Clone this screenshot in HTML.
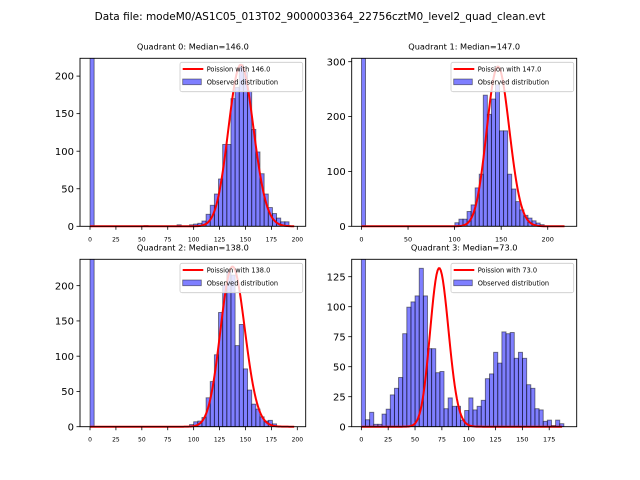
<!DOCTYPE html>
<html><head><meta charset="utf-8">
<style>
html,body{margin:0;padding:0;background:#fff;}
svg{display:block;font-family:"DejaVu Sans","Liberation Sans",sans-serif;}
</style></head>
<body>
<svg id="fig" width="640" height="480" viewBox="0 0 640 480">
<text x="320" y="20" text-anchor="middle" font-size="10.5">Data file: modeM0/AS1C05_013T02_9000003364_22756cztM0_level2_quad_clean.evt</text>
</svg>
<script>
// ---- data ----
const titles = ["Quadrant 0: Median=146.0","Quadrant 1: Median=147.0","Quadrant 2: Median=138.0","Quadrant 3: Median=73.0"];
const medians = [146.0, 147.0, 138.0, 73.0];
const binWidths = [4.0, 4.36, 4.0, 3.85];
const counts0 = [300,0,0,0,0,0,0,0,0,0,0,0,0,1,0,0,0,0,0,0,0,2,0,0,2,3,4,7,16,28,43,63,109,109,170,185,215,205,180,129,99,70,43,25,17,11,6,6];
const counts1 = [400,0,0,0,0,0,0,0,0,0,0,0,0,0,0,0,0,0,0,0,0,0,0,6.5,13,13,27,39,70,95,239,204,232,258,174,174,95,68,45,30,20,15,10,6,3];
const counts2 = [300,0,0,0,0,0,0,0,0,0,0,0,0,0,0,0,0,0,0,0,0,0,0,0,3,7,8,13,41,64,102,162,201,222,215,115,145,82,52,32,25,14,8,9,4];
const counts3 = [200,5.8,12,2,2,10.5,14.6,26.5,32,41,77.5,99.6,104,109,132,109,65,65,45,46,15,24,17,17,5.5,13.5,24,14,17,22,40,44,62,53,79,77.5,78.5,57,62,57,35,32,15,14,4.5,5.5,1,5.5,2.5];
const curvePeaks = [215, 291, 227, 132];
const curveMaxK = [197, 218, 197, 187];
const xTicks0 = [0,25,50,75,100,125,150,175,200];
const xTicks1 = [0,50,100,150,200];
const xTicks3 = [0,25,50,75,100,125,150,175];
const yTicks0 = [0,50,100,150,200];
const yTicks1 = [0,100,200,300];
const yTicks3 = [0,25,50,75,100,125];

// ---- layout ----
const NS = "http://www.w3.org/2000/svg";
const svg = document.getElementById('fig');
const panels = [
  {L:80,R:305.7,T:58.3,B:226.3,xmin:-9.65,xmax:208.1,ymax:223.7,counts:counts0,xt:xTicks0,yt:yTicks0,xfs:6},
  {L:351.7,R:576.7,T:58.3,B:226.3,xmin:-10.5,xmax:231.1,ymax:306.2,counts:counts1,xt:xTicks1,yt:yTicks1,xfs:6.5},
  {L:80,R:305.7,T:259.3,B:426.7,xmin:-9.65,xmax:208.1,ymax:237.4,counts:counts2,xt:xTicks0,yt:yTicks0,xfs:6},
  {L:351.7,R:576.7,T:259.3,B:426.7,xmin:-9.0,xmax:200.6,ymax:139.5,counts:counts3,xt:xTicks3,yt:yTicks3,xfs:6.5}
];
function mk(tag, attrs, parent){const e=document.createElementNS(NS,tag);for(const k in attrs)e.setAttribute(k,attrs[k]);(parent||svg).appendChild(e);return e;}
function logFact(k){let s=0;for(let i=2;i<=k;i++)s+=Math.log(i);return s;}

panels.forEach((p,i)=>{
  const sx=v=>p.L+(v-p.xmin)/(p.xmax-p.xmin)*(p.R-p.L);
  const sy=v=>p.B-v/p.ymax*(p.B-p.T);
  const g=mk('g',{});
  
  
  const cp=mk('clipPath',{id:'clip'+i},g);
  mk('rect',{x:p.L,y:p.T,width:p.R-p.L,height:p.B-p.T},cp);
  const t=mk('text',{x:(p.L+p.R)/2,y:p.T-9,'text-anchor':'middle','font-size':8.2},g);
  t.textContent=titles[i];
  
  
  const bars=mk('g',{'clip-path':'url(#clip'+i+')'},g);
  const w=binWidths[i];
  p.counts.forEach((c,k)=>{
    if(c<=0)return;
    const x0=sx(k*w),x1=sx((k+1)*w),y0=sy(c);
    const r=mk('rect',{x:x0,y:y0,width:x1-x0,height:p.B-y0,fill:'rgba(0,0,255,0.5)',stroke:'rgba(0,0,0,0.5)','stroke-width':0.9},bars);
    
    
  });
  // poisson curve
  const lam=medians[i];
  let pm=[];let mx=0;
  for(let k=0;k<=curveMaxK[i];k++){const v=Math.exp(k*Math.log(lam)-lam-logFact(k));pm.push(v);if(v>mx)mx=v;}
  const pts=pm.map((v,k)=>sx(k).toFixed(2)+','+sy(v/mx*curvePeaks[i]).toFixed(2)).join(' ');
  const pl=mk('polyline',{points:pts,fill:'none',stroke:'#ff0000','stroke-width':2,'stroke-linejoin':'round'},g);
  
  
  // frame
  const fr=mk('rect',{x:p.L,y:p.T,width:p.R-p.L,height:p.B-p.T,fill:'none',stroke:'#000','stroke-width':0.9},g);
  
  
  // ticks
  p.xt.forEach(v=>{const x=sx(v);mk('line',{x1:x,x2:x,y1:p.B,y2:p.B+3.5,stroke:'#000','stroke-width':0.8},g);
    const tt=mk('text',{x:x,y:p.B+15,'text-anchor':'middle','font-size':p.xfs},g);tt.textContent=v;
    
    });
  p.yt.forEach(v=>{const y=sy(v);mk('line',{x1:p.L-3.5,x2:p.L,y1:y,y2:y,stroke:'#000','stroke-width':0.8},g);
    const tt=mk('text',{x:p.L-6,y:y+3.6,'text-anchor':'end','font-size':10},g);tt.textContent=v;
    
    });
  // legend
  const lx=p.R-125.7,ly=p.T+4;
  const lg=mk('g',{},g);
  
  
  mk('rect',{x:lx,y:ly,width:122.7,height:29.4,rx:2,fill:'rgba(255,255,255,0.8)',stroke:'#ccc','stroke-width':0.8},lg);
  mk('line',{x1:lx+2.7,x2:lx+23.3,y1:ly+6.7,y2:ly+6.7,stroke:'#ff0000','stroke-width':2},lg);
  const l1=mk('text',{x:lx+26.7,y:ly+9.2,'font-size':6.6},lg);l1.textContent='Poission with '+medians[i].toFixed(1);
  
  
  mk('rect',{x:lx+2.7,y:ly+16.7,width:18.6,height:5.7,fill:'rgba(0,0,255,0.5)',stroke:'rgba(0,0,0,0.5)','stroke-width':0.8},lg);
  const l2=mk('text',{x:lx+26.7,y:ly+22.2,'font-size':6.6},lg);l2.textContent='Observed distribution';
  
  
});
</script>
</body></html>
